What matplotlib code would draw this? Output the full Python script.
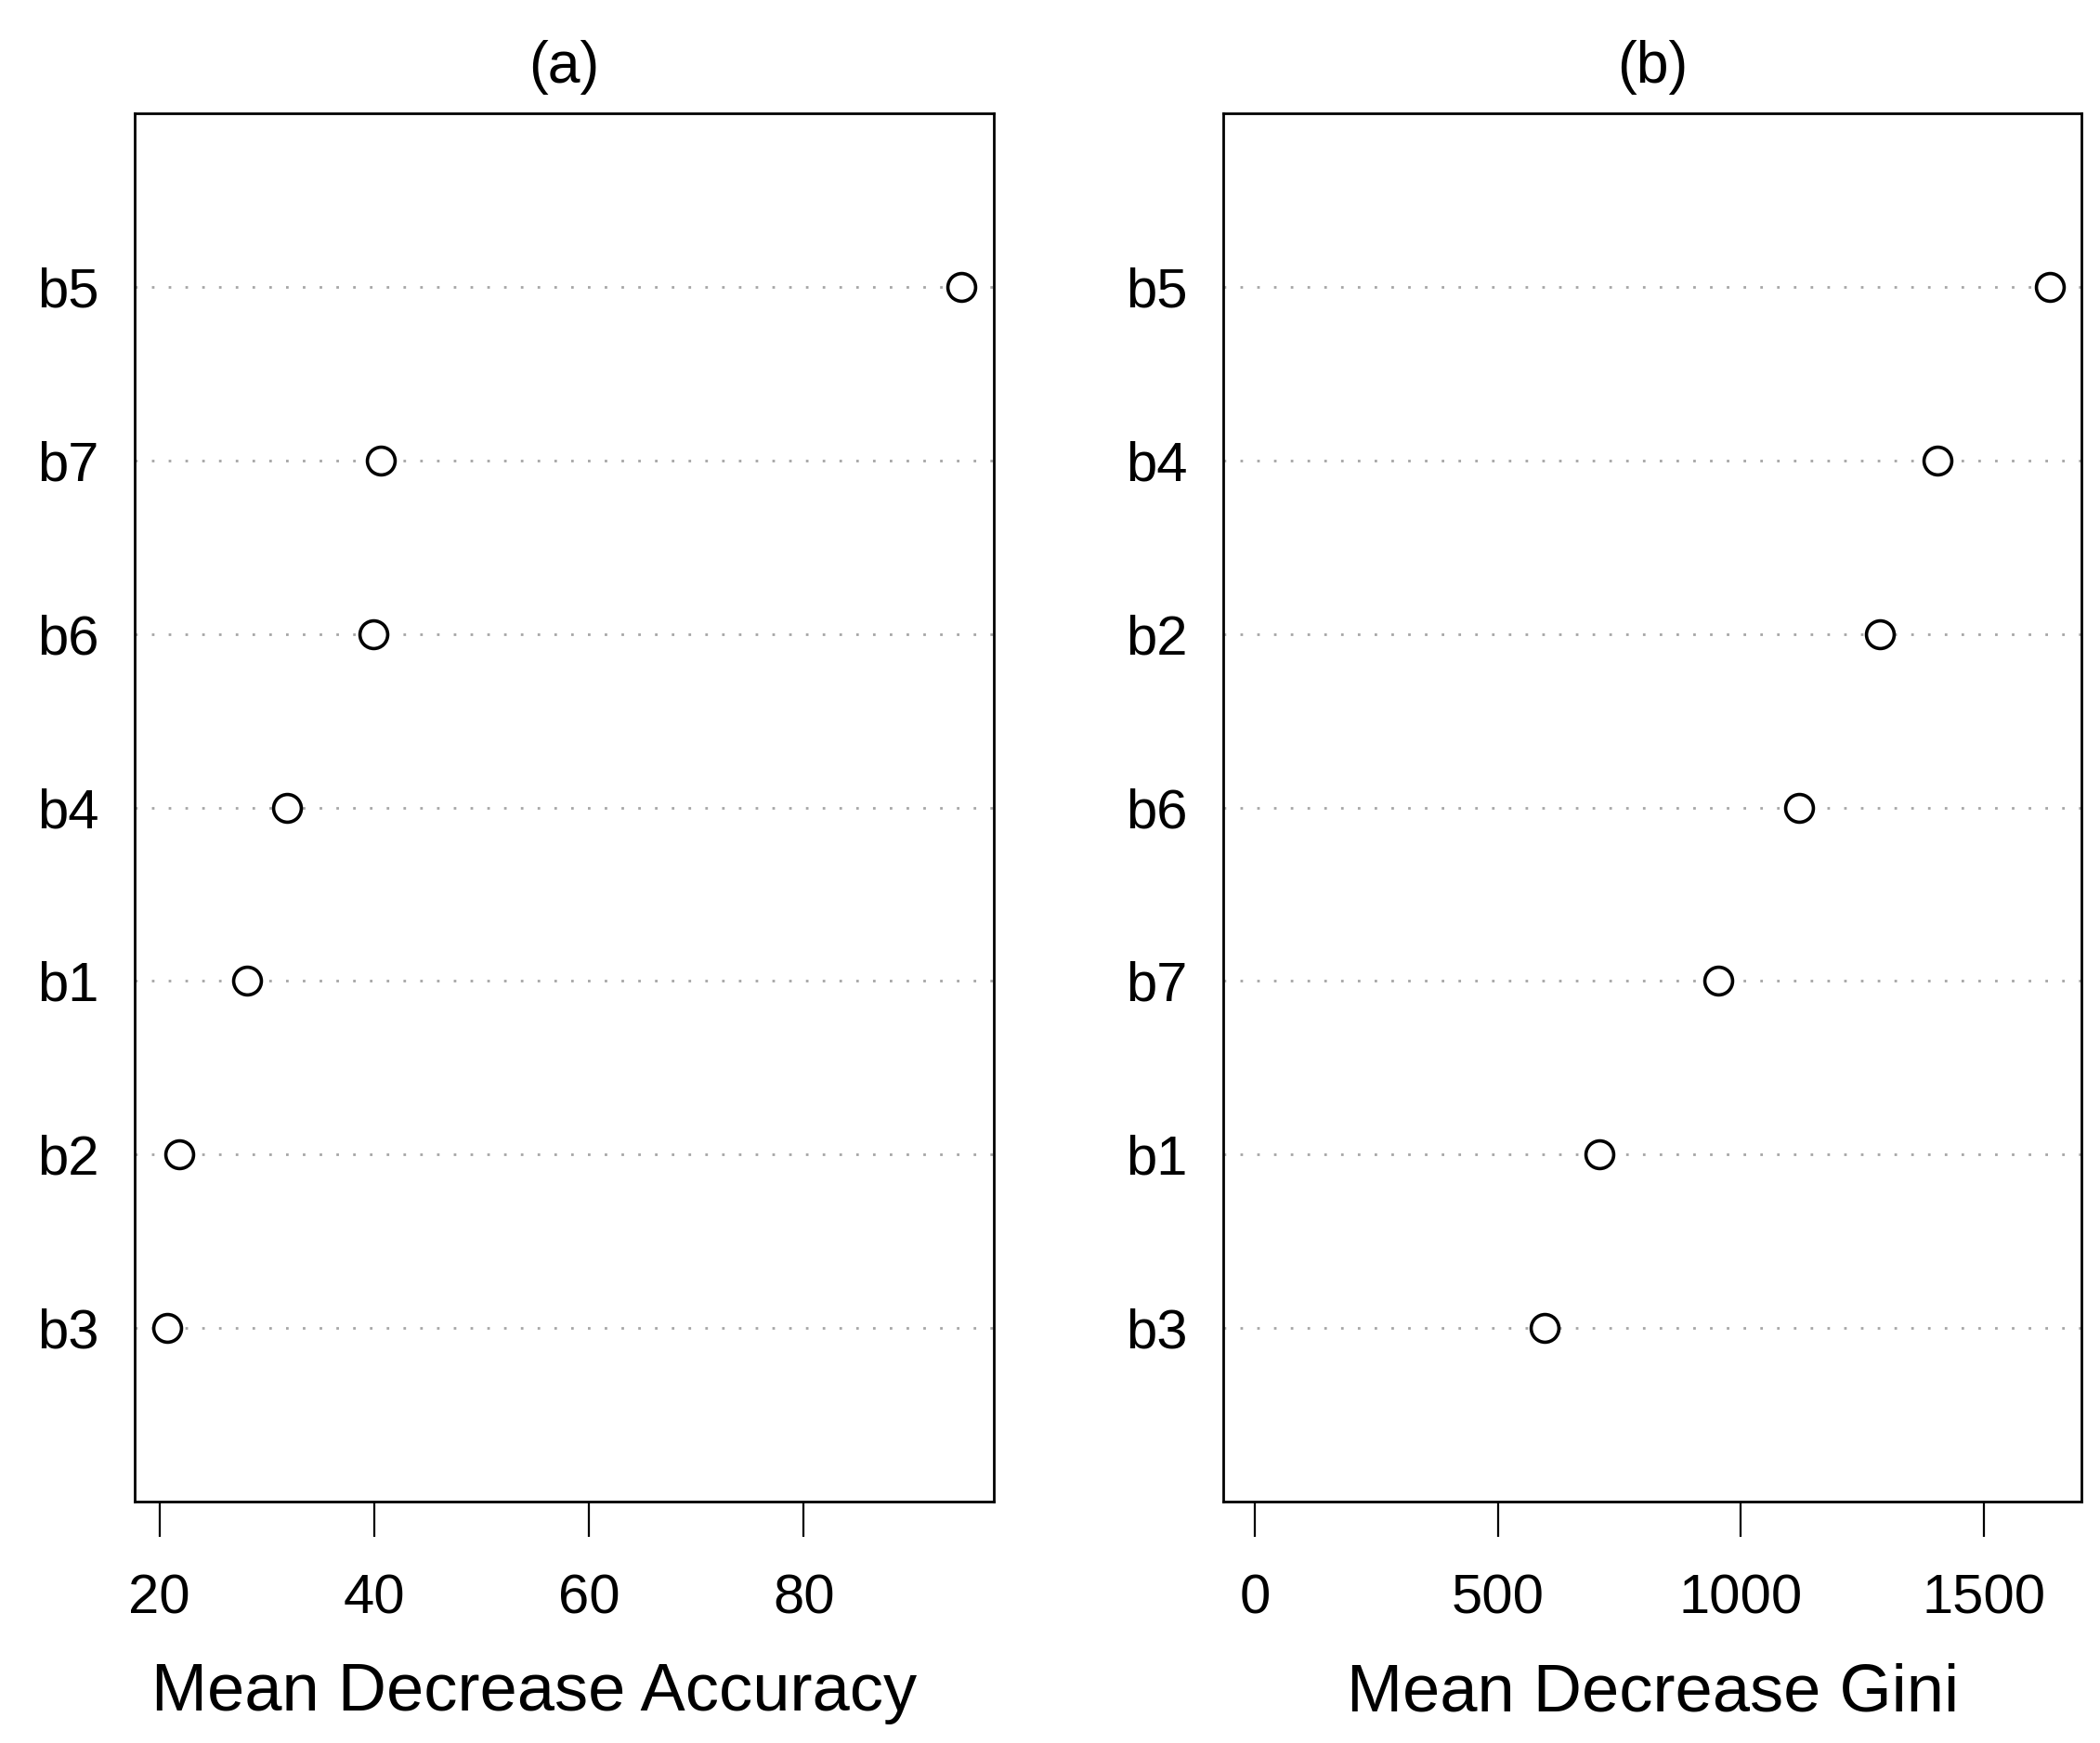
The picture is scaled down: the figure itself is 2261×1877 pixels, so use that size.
import matplotlib
matplotlib.use("Agg")
import matplotlib.pyplot as plt

plt.rcParams['font.family'] = ['Liberation Sans', 'DejaVu Sans']

# variable importance, listed bottom to top as in the dotchart
acc_labels = ["b3", "b2", "b1", "b4", "b6", "b7", "b5"]
acc_values = [20.7, 21.9, 28.2, 31.9, 39.9, 40.6, 94.7]

gini_labels = ["b3", "b1", "b7", "b6", "b2", "b4", "b5"]
gini_values = [596, 709, 954, 1120, 1286, 1406, 1636]

acc_ticks = [20, 40, 60, 80]
gini_ticks = [0, 500, 1000, 1500]

fig = plt.figure(figsize=(22.61, 18.77), dpi=100)
ax_a = fig.add_axes([0.0643, 0.1385, 0.4088, 0.7965])
ax_b = fig.add_axes([0.5826, 0.1385, 0.4085, 0.7965])


def dotchart(ax, labels, values, ticks, xlim, title, xlabel, label_x):
    ys = list(range(1, len(values) + 1))
    for y in ys:
        ax.axhline(y, color="#a6a6a6", lw=2.0, linestyle=(0, (1, 5.5)), zorder=1)
    ax.plot(values, ys, linestyle="none", marker="o", markersize=21.5,
            markerfacecolor="white", markeredgecolor="black",
            markeredgewidth=2.6, zorder=3)
    ax.set_xlim(*xlim)
    ax.set_ylim(0, len(values) + 1)
    ax.set_yticks(ys)
    ax.set_yticklabels(labels)
    ax.set_xticks(ticks)
    ax.set_xticklabels([str(t) for t in ticks])
    ax.tick_params(axis="y", length=0, pad=28, labelsize=43)
    ax.tick_params(axis="x", length=27, width=1.6, pad=29, labelsize=43)
    for sp in ax.spines.values():
        sp.set_linewidth(2.0)
    ax.set_title(title, fontsize=45, pad=24)
    ax.set_xlabel(xlabel, fontsize=52)
    ax.xaxis.set_label_coords(label_x, -0.116)


# x limits: data range padded 4% like R's plot window
lo, hi = min(acc_values), max(acc_values)
pad = (hi - lo) * 0.04
dotchart(ax_a, acc_labels, acc_values, acc_ticks, (lo - pad, hi + pad),
         "(a)", "Mean Decrease Accuracy", 0.465)

hi = max(gini_values)
pad = hi * 0.04
dotchart(ax_b, gini_labels, gini_values, gini_ticks, (-pad, hi + pad),
         "(b)", "Mean Decrease Gini", 0.5)

fig.savefig("out.png", dpi=100)
